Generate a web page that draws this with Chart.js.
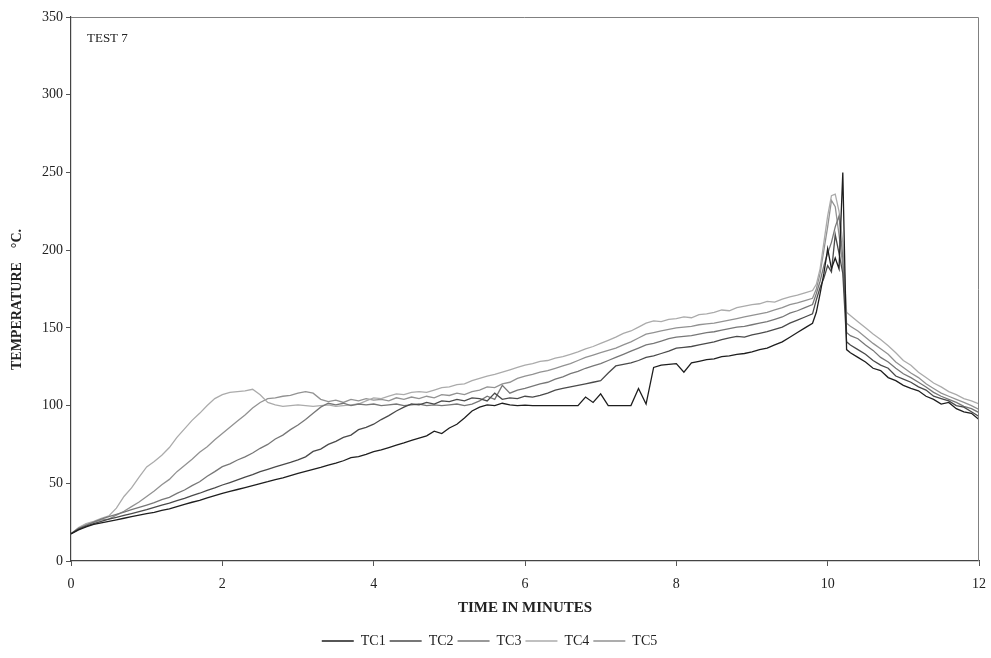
<!DOCTYPE html>
<html>
<head>
<meta charset="utf-8">
<script src="https://cdn.jsdelivr.net/npm/chart.js@4/dist/chart.umd.min.js"></script>
<style>
  html,body{margin:0;padding:0;background:#fff;}
  #wrap{width:991px;height:658px;position:relative;}
</style>
</head>
<body>
<div id="wrap"><canvas id="c"></canvas></div>
<script>
// time in minutes (shared by all thermocouples)
const TIME = [
  0,0.1,0.2,0.3,0.4,0.5,0.6,0.7,0.8,0.9,
  1,1.1,1.2,1.3,1.4,1.5,1.6,1.7,1.8,1.9,
  2,2.1,2.2,2.3,2.4,2.5,2.6,2.7,2.8,2.9,
  3,3.1,3.2,3.3,3.4,3.5,3.6,3.7,3.8,3.9,
  4,4.1,4.2,4.3,4.4,4.5,4.6,4.7,4.8,4.9,
  5,5.1,5.2,5.3,5.4,5.5,5.6,5.7,5.8,5.9,
  6,6.1,6.2,6.3,6.4,6.5,6.6,6.7,6.8,6.9,
  7,7.1,7.2,7.3,7.4,7.5,7.6,7.7,7.8,7.9,
  8,8.1,8.2,8.3,8.4,8.5,8.6,8.7,8.8,8.9,
  9,9.1,9.2,9.3,9.4,9.5,9.6,9.7,9.8,
  9.85,9.9,9.95,10,10.05,10.1,10.15,10.2,10.25,10.3,
  10.4,10.5,10.6,10.7,10.8,10.9,11,11.1,11.2,11.3,11.4,11.5,11.6,11.7,11.8,11.9,12
];

const TC1 = [
  17.5,20,22,23.5,24.5,25.5,26.5,27.5,28.5,29.5,
  30.5,31.3,32.5,33.6,35,36.5,37.8,39,40.6,42,
  43.5,44.8,46,47.2,48.5,49.8,51,52.4,53.5,55,
  56.3,57.6,59,60.2,61.7,63,64.5,66.5,67.2,68.6,
  70.3,71.5,73,74.6,76,77.6,79,80.5,83.5,82,
  85.6,88,92,96.5,99,100.5,100,101.5,100.5,100,
  100.3,100,100,100,100,100,100,100,105.5,102,
  107.5,100,100,100,100,111,101,124.5,126,126.5,
  127,121.5,127.5,128.5,129.5,130,131.5,132,133,133.5,
  134.5,136,137,139,141,144,147,150,153,
  160,172,185,201,188,195,188,250,136,134,
  131,128,124,122.5,118,116,113,111,109.5,106,104,101,102,98,96,95,91
];

const TC2 = [
  17.5,20.5,22.5,24,25.5,27,28,29.3,30.5,31.7,
  33,34.5,36,37.2,38.8,40.3,42,43.6,45.5,47,
  48.9,50.5,52.2,54,55.6,57.5,59,60.5,62,63.4,
  65,67,70.5,72,75,77,79.5,81,84.5,86,
  88,91,93.5,96.5,99,101,100.5,102,101,103,
  102.5,104,103,105,104.5,103,108,104,105,104.5,
  106,105.5,106.5,108,110,111,112,113,114,115,
  116,121,125.5,126.5,127.5,129,131,132,133.5,135,
  137,137.5,138,139,140,141,142.5,143.5,144.5,144,
  145.5,146.5,147.5,149,150.5,153,155,157,159,
  168,176,182,190,186,210,198,185,141,139,
  136,133,129,126,124,119,117,115,112,110,106,104.5,103,100,99,96,93
];

const TC3 = [
  17.5,21,23,25,27,28.5,30,31.5,33,34.5,
  36,37.5,39.5,41,43.5,45.7,48.5,51,54.5,57.5,
  60.7,62.5,65,67,69.5,72.5,75,78.5,81,84.5,
  87.5,91,95,99,101.5,100.5,101.5,100,101,100.5,
  101,100,100.5,101,100,100.5,101,100,100.5,100,
  100.5,101,100,101,103,106,104,113,108,110,
  111,112.5,114,115,117,118.5,120.5,122,124,125.5,
  127,129,131,133,135,137,139,140,141.5,143,
  144,144.5,145,146,147,147.5,148.5,149.5,150.5,151,
  152,153,154,155.5,157,159.5,161,163,165,
  172,180,190,198,205,215,222,195,147,145,
  143,139,135.5,131,128,124,120.5,118,115,112,108.5,106,104,102,99.5,98,95.5
];

const TC4 = [
  17.5,21.5,24,25.5,27.5,29,34,41.5,47,54,
  60.5,64,68,73,79.5,85,90.5,95,100,104.5,
  107,108.5,109,109.5,110.5,107,102,100.5,99.5,100,
  100.5,100,99.5,100,100.5,99.5,100,100.5,101,103,
  105,104.5,106,107.5,107,108.5,109,108.5,110,111.5,
  112,113.5,114,116,117.5,119,120,121.5,123,124.5,
  126,127,128.5,129,130.5,131.5,133,134.5,136.5,138,
  140,142,144,146.5,148,150.5,153,154.5,154,155.5,
  156,157,156.5,158.5,159,160,161.5,161,163,164,
  165,165.5,167,166.5,168.5,170,171,172.5,174,
  178,188,205,222,235,236,225,205,160,158,
  154,150,146,142.5,138.5,134,129,126,121.5,118,114.5,112,109,107,104.5,103,101
];

const TC5 = [
  17.5,21,23.5,25,26.5,27,29.5,32,35,38,
  41.5,45,49,52.5,57.5,61.5,65.5,70,73.5,78,
  82,86,90,94,98.5,102,104.5,105,106,106.5,
  108,109,108,104,102.5,103.5,102,104,103,104.5,
  103.5,104,103,105,104,105.5,104.5,106,105,107,
  106.5,108,107,109,110,112,111.5,114,115,117.5,
  119,120,121.5,122.5,124,125.5,127,129,131,132.5,
  134,135.5,137,139,141,143.5,146,147,148,149,
  150,150.5,151,152,152.5,153,154,155,156,157,
  158,159,160,161.5,163,165,166,167.5,169,
  175,185,200,215,232,228,210,190,153,151,
  148,144,140,136.5,133,128,124.5,121,118,114,111,108,106,104,102,100,97.5
];

const SERIES = [
  ['TC1', TC1, '#1e1e1e'],
  ['TC2', TC2, '#4a4a4a'],
  ['TC3', TC3, '#777777'],
  ['TC4', TC4, '#ababab'],
  ['TC5', TC5, '#929292'],
];

const X_TICKS = [0,2,4,6,8,10,12];
const Y_TICKS = [0,50,100,150,200,250,300,350];

const SERIF = '"Liberation Serif", "DejaVu Serif", serif';

const frameAndLabel = {
  id:'frameAndLabel',
  afterDraw(chart){
    const {ctx, chartArea:a} = chart;
    ctx.save();
    ctx.strokeStyle = '#808080';
    ctx.lineWidth = 1;
    ctx.beginPath();
    ctx.moveTo(a.left, a.top + 0.5);
    ctx.lineTo(a.right - 0.5, a.top + 0.5);
    ctx.lineTo(a.right - 0.5, a.bottom);
    ctx.stroke();
    ctx.font = '13px ' + SERIF;
    ctx.fillStyle = '#222';
    ctx.textBaseline = 'alphabetic';
    ctx.fillText('TEST 7', a.left + 16, a.top + 25);
    ctx.restore();
  }
};

new Chart(document.getElementById('c'), {
  type:'line',
  data:{
    datasets: SERIES.map(([name, vals, col]) => ({
      label: name,
      data: TIME.map((t, i) => ({x: t, y: vals[i]})),
      borderColor: col,
      backgroundColor: col,
      borderWidth: 1.3,
      pointRadius: 0,
      tension: 0,
    }))
  },
  options:{
    responsive:true, maintainAspectRatio:false, animation:false, devicePixelRatio:1,
    layout:{ padding:{ top:17, right:12, left:0, bottom:0 } },
    plugins:{
      legend:{
        position:'bottom',
        labels:{
          usePointStyle:true, pointStyle:'line', pointStyleWidth:32,
          font:{ family:SERIF, size:14 }, color:'#222', padding:4
        }
      },
      tooltip:{ enabled:false }
    },
    scales:{
      x:{
        type:'linear', min:0, max:12,
        afterBuildTicks: s => { s.ticks = X_TICKS.map(v => ({value:v})); },
        afterFit: s => { s.height = 69; s.paddingLeft = 0; s.paddingRight = 0; },
        ticks:{ font:{ family:SERIF, size:14 }, color:'#222', padding:10, maxRotation:0 },
        grid:{ drawOnChartArea:false, tickLength:5, color:'#555' },
        border:{ color:'#444', width:1.2 },
        title:{ display:true, text:'TIME IN MINUTES', color:'#222',
          font:{ family:SERIF, size:15, weight:'bold' }, padding:{ top:0, bottom:13 } }
      },
      y:{
        min:0, max:350,
        afterBuildTicks: s => { s.ticks = Y_TICKS.map(v => ({value:v})); },
        afterFit: s => { s.width = 71; },
        ticks:{ font:{ family:SERIF, size:14 }, color:'#222', padding:3 },
        grid:{ drawOnChartArea:false, tickLength:5, color:'#555' },
        border:{ color:'#444', width:1.2 },
        title:{ display:true, text:'TEMPERATURE    °C.      ', color:'#222',
          font:{ family:SERIF, size:14, weight:'bold' }, padding:{ top:9, bottom:0 } }
      }
    }
  },
  plugins:[frameAndLabel]
});
</script>
</body>
</html>
